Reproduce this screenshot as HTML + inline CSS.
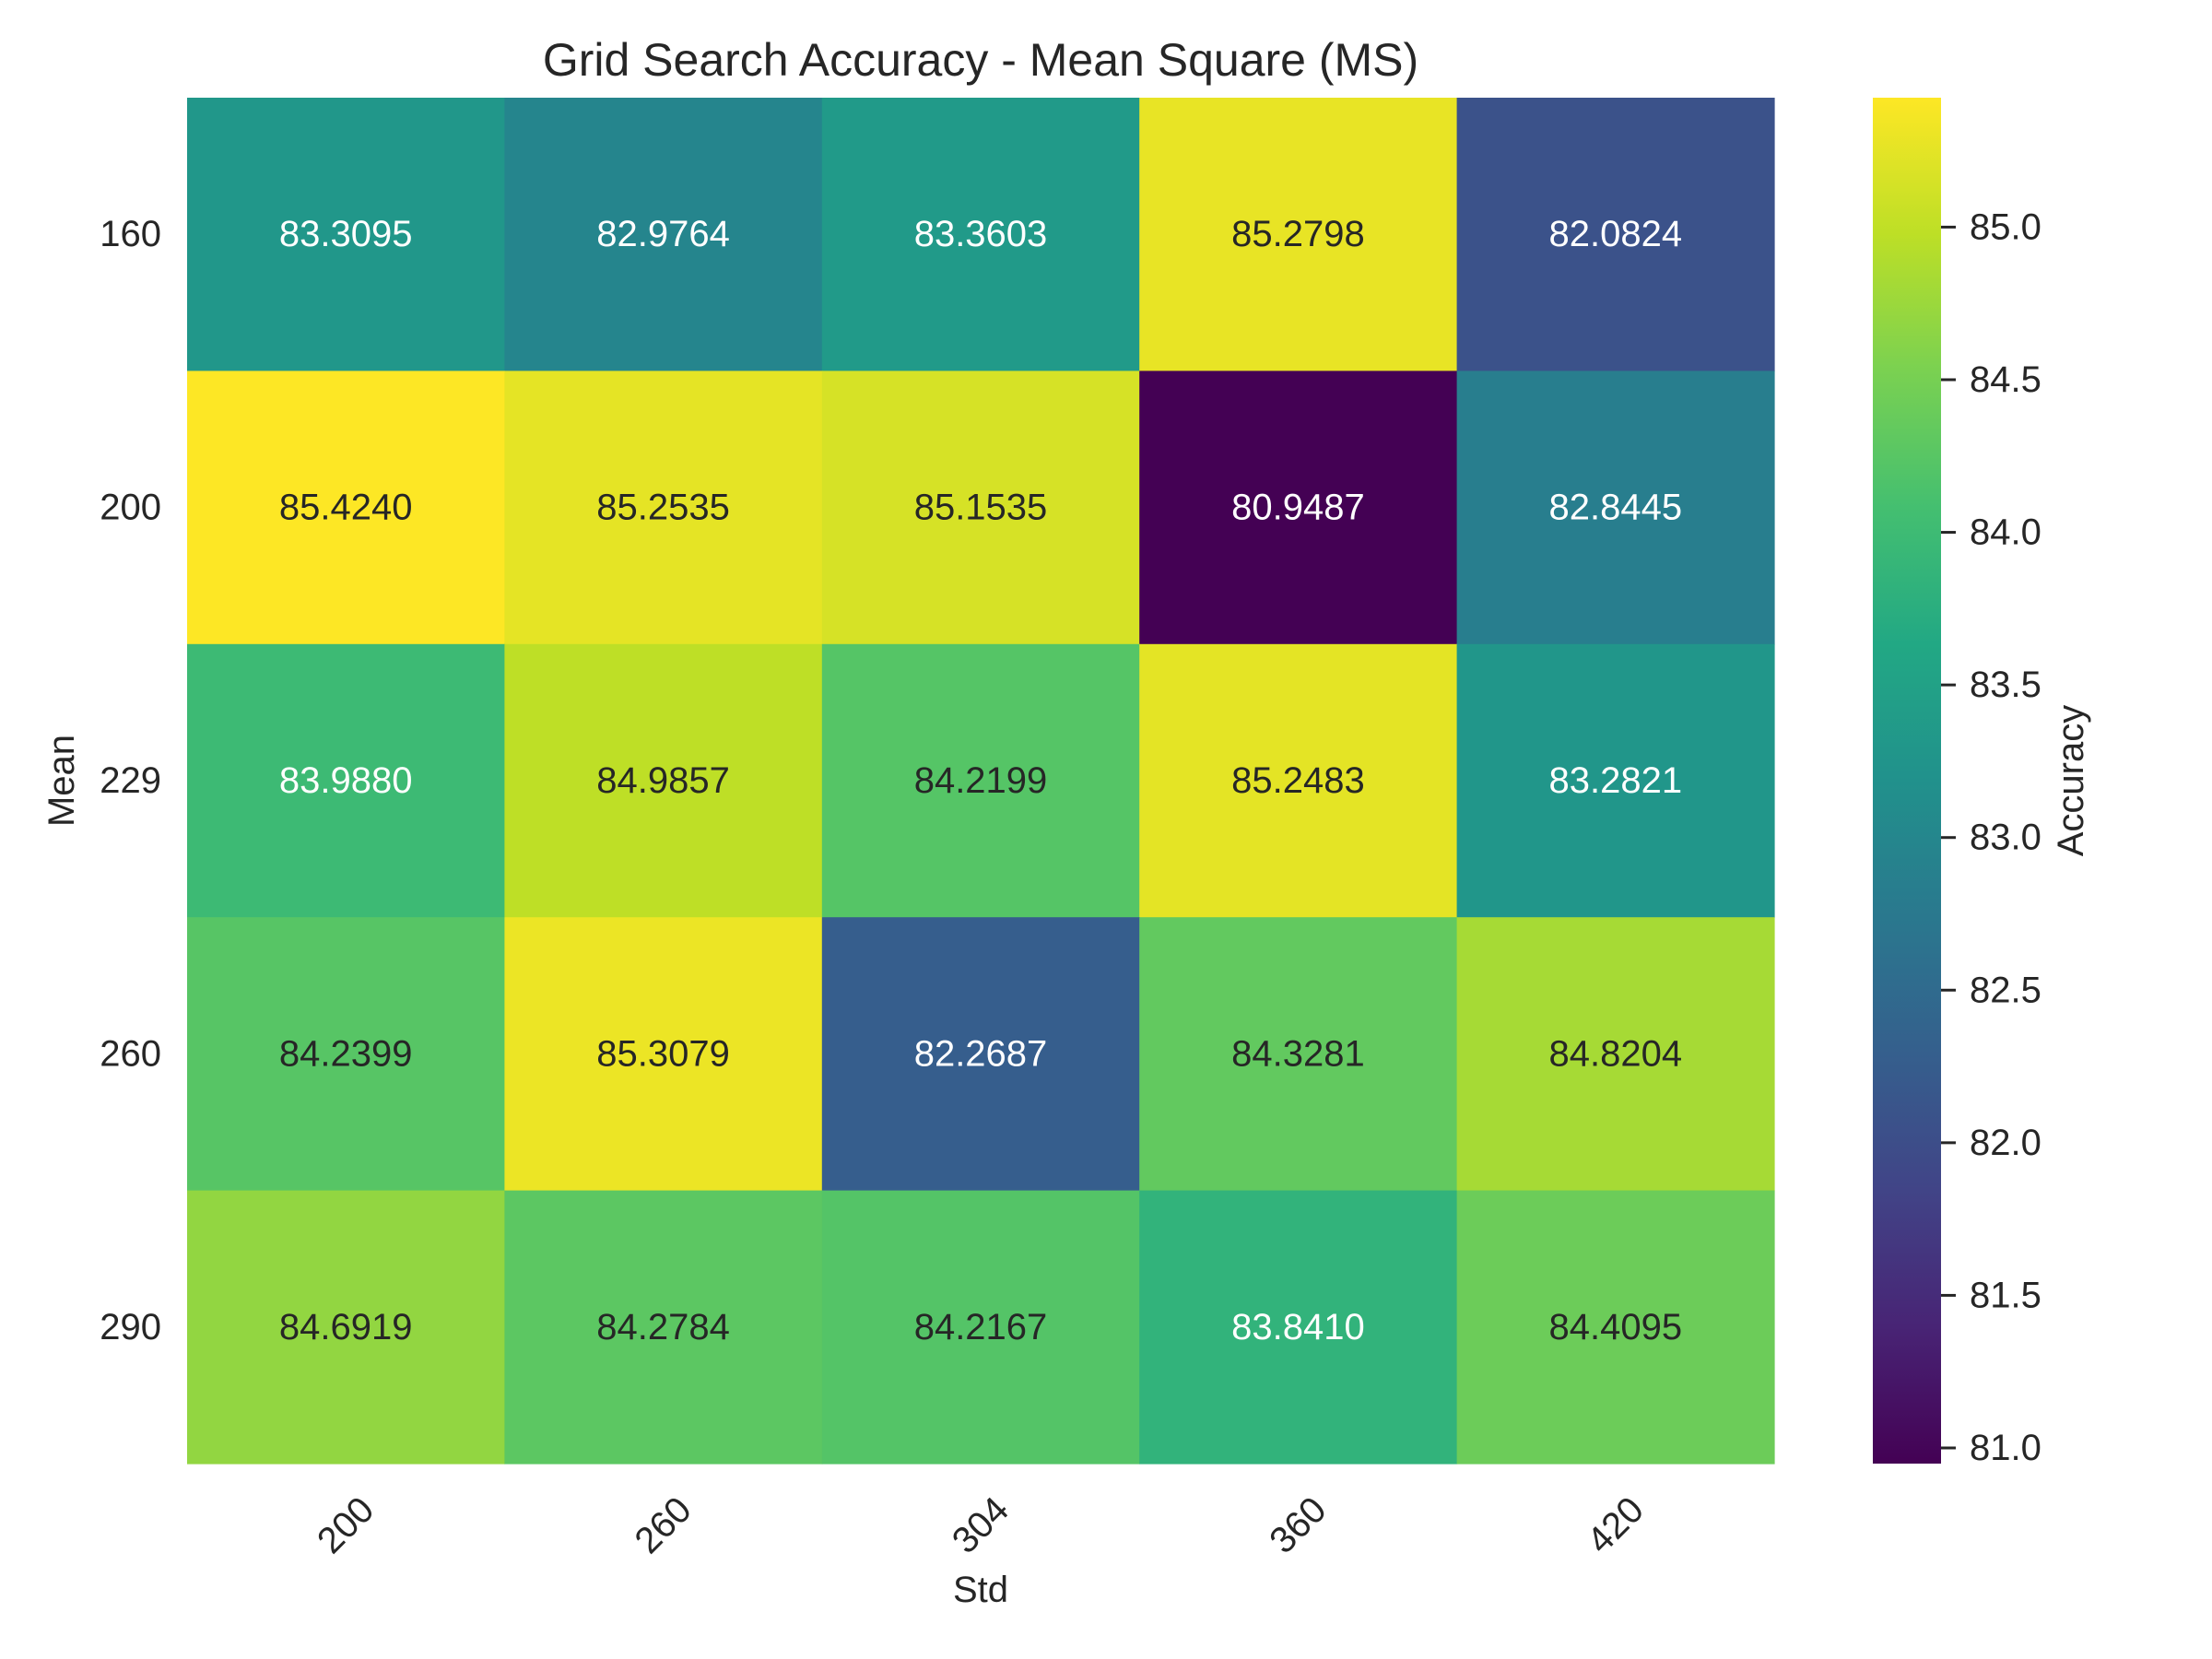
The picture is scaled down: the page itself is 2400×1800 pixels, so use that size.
<!DOCTYPE html>
<html><head><meta charset="utf-8"><style>
html,body{margin:0;padding:0;background:#fff;}
svg{display:block;font-family:"Liberation Sans",Arial,sans-serif;}
</style></head><body>
<svg id="chart" width="2400" height="1800" viewBox="0 0 2400 1800" xmlns="http://www.w3.org/2000/svg">
<defs>
<linearGradient id="vir" x1="0" y1="1" x2="0" y2="0">
<stop offset="0" stop-color="#440154"/><stop offset="0.1" stop-color="#482475"/><stop offset="0.2" stop-color="#414487"/><stop offset="0.3" stop-color="#355f8d"/><stop offset="0.4" stop-color="#2a788e"/><stop offset="0.5" stop-color="#21918c"/><stop offset="0.6" stop-color="#22a884"/><stop offset="0.7" stop-color="#44bf70"/><stop offset="0.8" stop-color="#7ad151"/><stop offset="0.9" stop-color="#bddf26"/><stop offset="1" stop-color="#fde725"/>
</linearGradient>
</defs>
<text x="1064" y="82" font-size="50" text-anchor="middle" fill="#262626">Grid Search Accuracy - Mean Square (MS)</text>
<g id="cells"></g>
<g id="yticks"></g>
<g id="xticks"></g>
<text x="1064" y="1738" font-size="40" text-anchor="middle" fill="#262626">Std</text>
<text transform="translate(80,847) rotate(-90)" font-size="40" text-anchor="middle" fill="#262626">Mean</text>
<rect x="2032" y="106" width="74" height="1482" fill="url(#vir)"/>
<g id="cbticks"></g>
<text transform="translate(2260,847) rotate(-90)" font-size="40" text-anchor="middle" fill="#262626">Accuracy</text>
</svg>
<script>
const stdLabels = ["200","260","304","360","420"];
const meanLabels = ["160","200","229","260","290"];
const row160 = [83.3095, 82.9764, 83.3603, 85.2798, 82.0824];
const row200 = [85.4240, 85.2535, 85.1535, 80.9487, 82.8445];
const row229 = [83.9880, 84.9857, 84.2199, 85.2483, 83.2821];
const row260 = [84.2399, 85.3079, 82.2687, 84.3281, 84.8204];
const row290 = [84.6919, 84.2784, 84.2167, 83.8410, 84.4095];
const cbTicks = [81.0, 81.5, 82.0, 82.5, 83.0, 83.5, 84.0, 84.5, 85.0];

const rows = [row160,row200,row229,row260,row290];
const NS="http://www.w3.org/2000/svg";
const L=203,T=106,W=1722,H=1482;
const cw=W/stdLabels.length, rh=H/meanLabels.length;
const all=rows.flat();
const vmin=Math.min(...all), vmax=Math.max(...all);
const stops=["#440154","#482475","#414487","#355f8d","#2a788e","#21918c","#22a884","#44bf70","#7ad151","#bddf26","#fde725"].map(h=>[1,3,5].map(i=>parseInt(h.substr(i,2),16)));
function vir(t){t=Math.max(0,Math.min(1,t));const p=t*10,i=Math.min(9,Math.floor(p)),f=p-i;return stops[i].map((c,k)=>Math.round(c+(stops[i+1][k]-c)*f));}
function lum(c){const l=c.map(v=>{v/=255;return v<=0.03928?v/12.92:Math.pow((v+0.055)/1.055,2.4)});return 0.2126*l[0]+0.7152*l[1]+0.0722*l[2];}
function xS(j){return L+j*cw;}
function yS(i){return T+i*rh;}
function cbY(v){return T+H-(v-vmin)/(vmax-vmin)*H;}
function mk(tag,attrs,parent){const e=document.createElementNS(NS,tag);for(const k in attrs)e.setAttribute(k,attrs[k]);parent.appendChild(e);return e;}
const cells=document.getElementById('cells');
rows.forEach((r,i)=>r.forEach((v,j)=>{
  const c=vir((v-vmin)/(vmax-vmin));
  const rect=mk('rect',{x:xS(j),y:yS(i),width:cw+0.6,height:rh+0.6,fill:`rgb(${c})`},cells);
  
  
  const t=mk('text',{x:xS(j)+cw/2,y:yS(i)+rh/2,'font-size':40,'text-anchor':'middle','dominant-baseline':'central',fill:lum(c)>0.408?'#262626':'#ffffff'},cells);
  
  
  t.textContent=v.toFixed(4);
}));
const yt=document.getElementById('yticks');
meanLabels.forEach((s,i)=>{
  const t=mk('text',{x:175,y:yS(i)+rh/2,'font-size':40,'text-anchor':'end','dominant-baseline':'central',fill:'#262626'},yt);
  
  
  t.textContent=s;
});
const xt=document.getElementById('xticks');
stdLabels.forEach((s,j)=>{
  const cx=xS(j)+cw/2;
  const t=mk('text',{transform:`translate(${cx},1655) rotate(-45)`,'font-size':40,'text-anchor':'middle','dominant-baseline':'central',fill:'#262626'},xt);
  
  
  t.textContent=s;
});
const cb=document.getElementById('cbticks');
cbTicks.forEach(v=>{
  const y=cbY(v);
  const ln=mk('line',{x1:2106,x2:2122,y1:y,y2:y,stroke:'#262626','stroke-width':3},cb);
  
  
  const t=mk('text',{x:2137,y:y,'font-size':40,'dominant-baseline':'central',fill:'#262626'},cb);
  
  
  t.textContent=v.toFixed(1);
});
</script>
</body></html>
